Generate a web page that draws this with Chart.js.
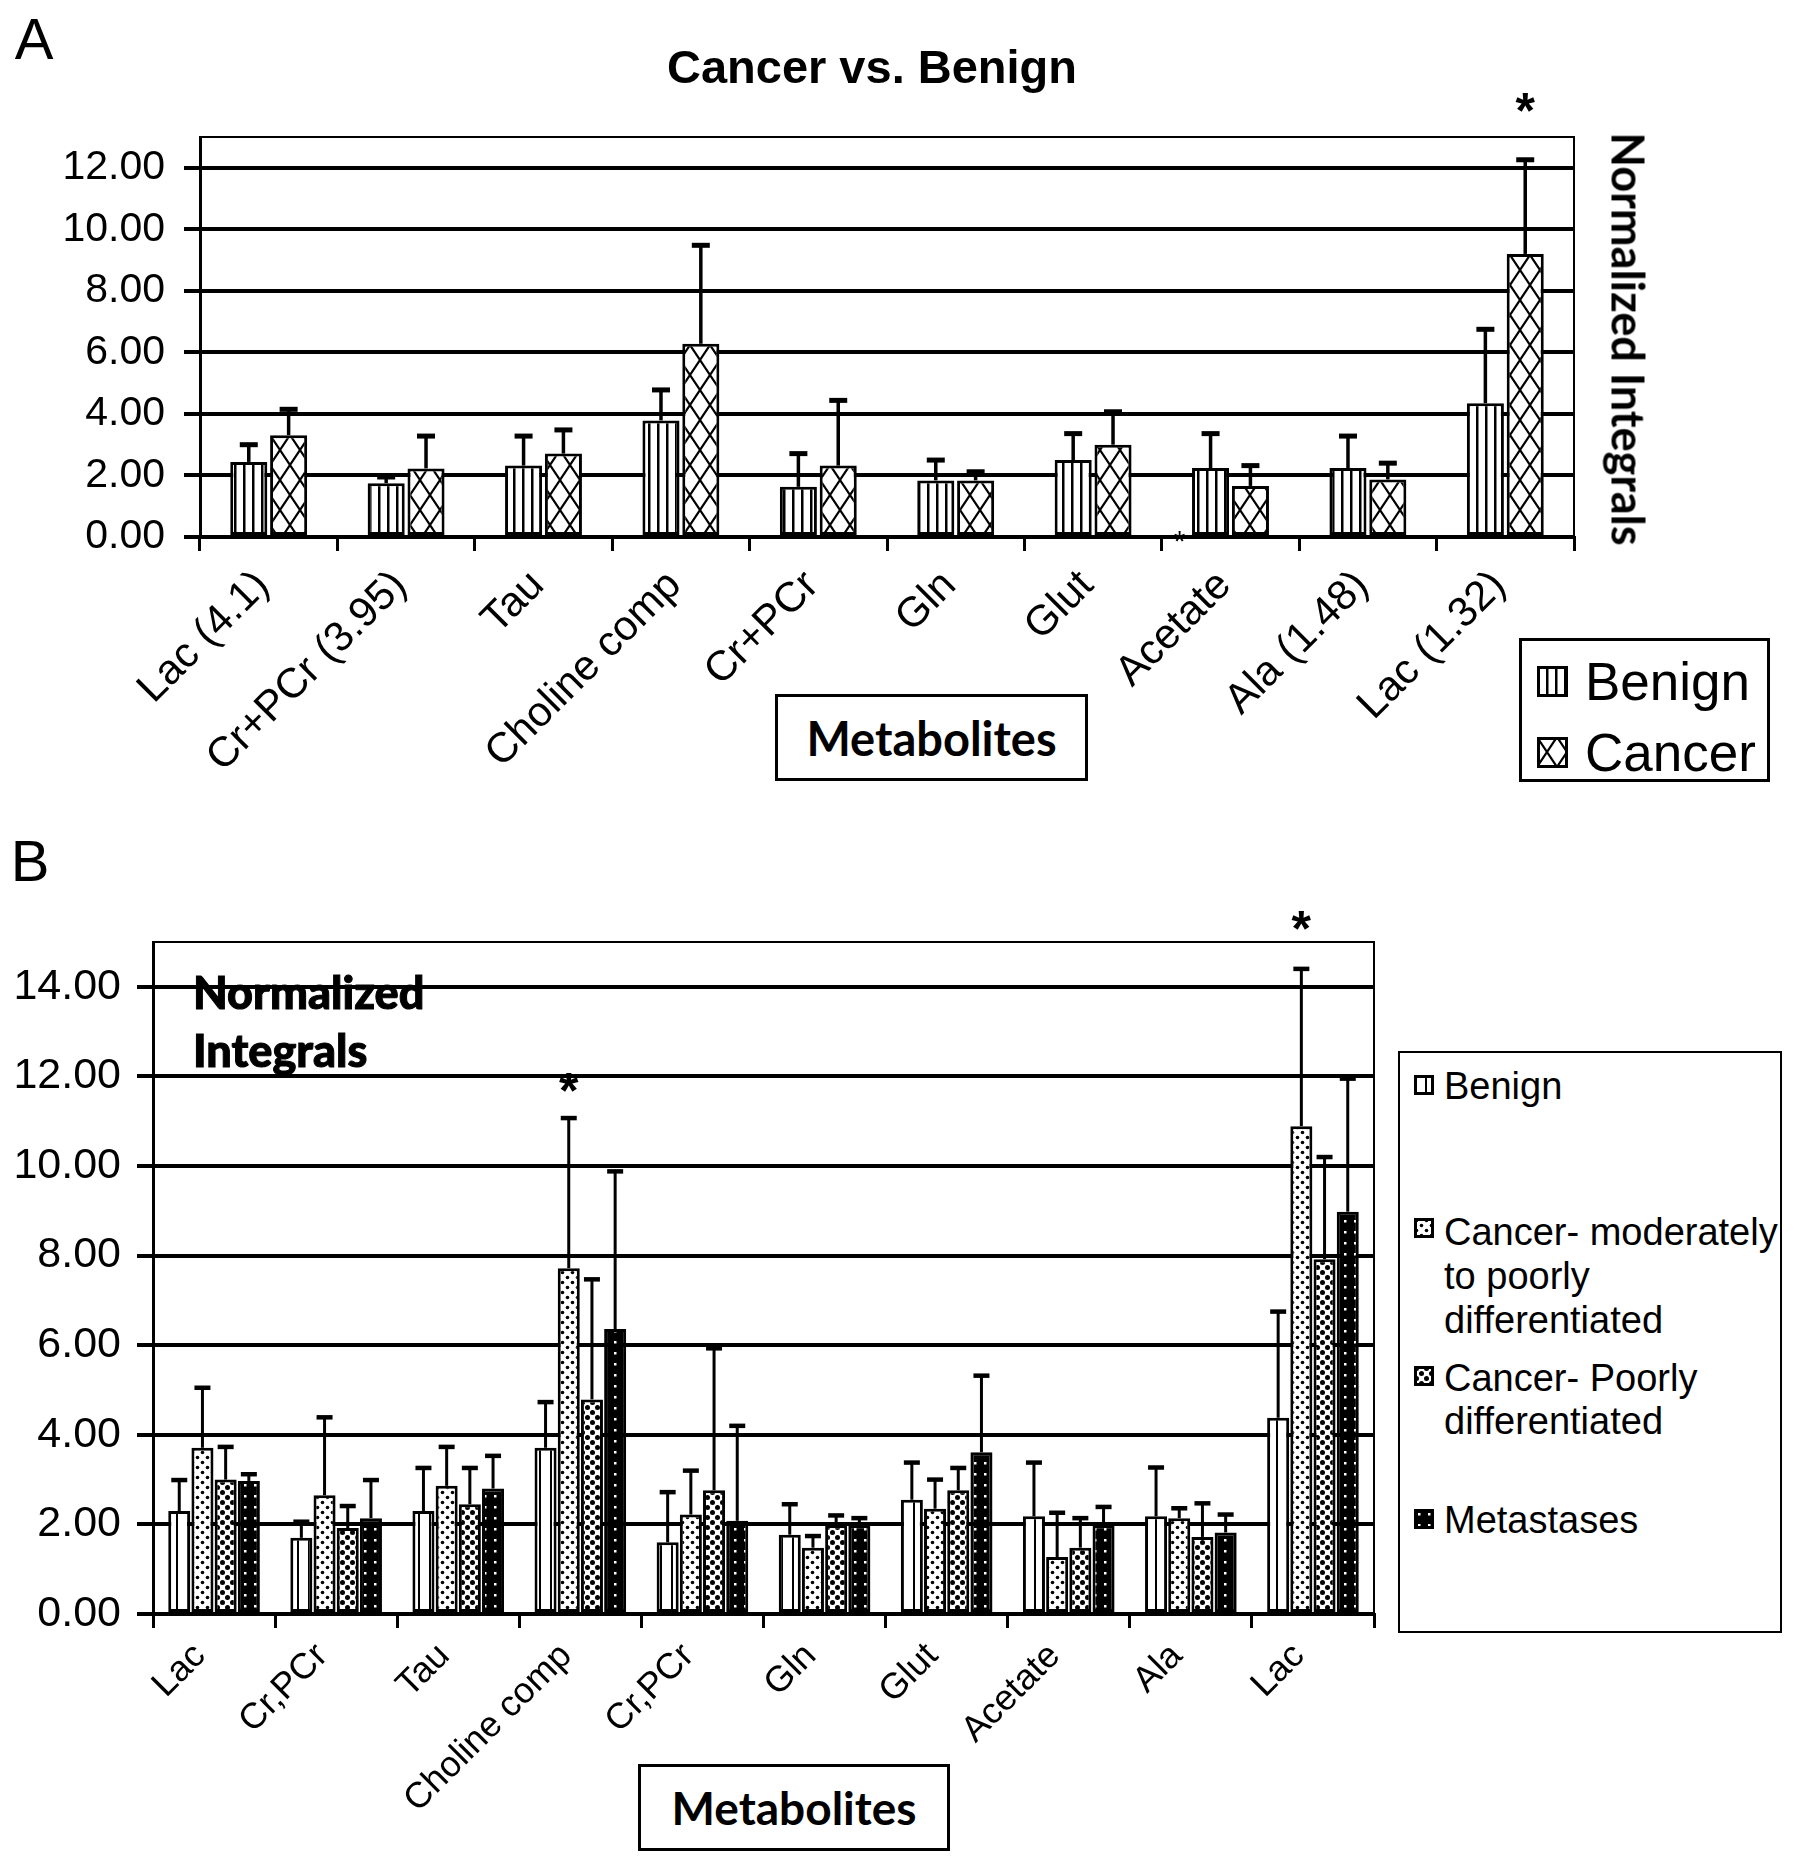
<!DOCTYPE html>
<html><head><meta charset="utf-8">
<script src="https://cdn.jsdelivr.net/npm/chart.js@4.4.1/dist/chart.umd.min.js"></script>
<style>
body{margin:0;background:#fff;width:1795px;height:1866px;position:relative;overflow:hidden;font-family:'Liberation Sans',Arial,sans-serif;color:#000}
canvas.chart{position:absolute;left:0}
.t{position:absolute;line-height:1;white-space:nowrap;transform:translate(-50%,-50%)}
.box{position:absolute;box-sizing:border-box;border:3px solid #000;background:#fff}
.lat{font-family:Lato,'Open Sans',sans-serif;font-weight:700}
.heavy{font-weight:900;-webkit-text-stroke:1px #000}
.leg{position:absolute;line-height:1;white-space:nowrap}
.sw{position:absolute}
</style></head><body>
<canvas class="chart" id="chartA" width="1795" height="820" style="top:0;width:1795px;height:820px"></canvas>
<canvas class="chart" id="chartB" width="1795" height="1046" style="top:820px;width:1795px;height:1046px"></canvas>

<div class="t" style="left:34px;top:39px;font-size:58px">A</div>
<div class="t" style="left:872px;top:66px;font-size:47px;font-weight:700">Cancer vs. Benign</div>
<div class="t lat" style="left:1628px;top:339px;font-size:45px;transform:translate(-50%,-50%) rotate(90deg)">Normalized Integrals</div>
<div class="box lat" style="left:775px;top:694px;width:313px;height:87px;font-size:47px;display:flex;align-items:center;justify-content:center">Metabolites</div>
<div class="box" style="left:1519px;top:638px;width:251px;height:144px"></div>
<canvas class="sw" id="swA0" width="31" height="31" style="left:1537px;top:666px"></canvas>
<div class="leg" style="left:1585px;top:655px;font-size:53px">Benign</div>
<canvas class="sw" id="swA1" width="31" height="31" style="left:1537px;top:737px"></canvas>
<div class="leg" style="left:1585px;top:726px;font-size:53px">Cancer</div>

<div class="t" style="left:30px;top:861px;font-size:58px">B</div>
<div class="leg lat heavy" style="left:193px;top:963px;font-size:45px;line-height:58px">Normalized<br>Integrals</div>
<div class="box lat" style="left:638px;top:1764px;width:312px;height:87px;font-size:46px;display:flex;align-items:center;justify-content:center">Metabolites</div>
<div class="box" style="left:1398px;top:1051px;width:384px;height:582px;border-width:2px"></div>
<canvas class="sw" id="swB0" width="20" height="20" style="left:1414px;top:1075px"></canvas>
<div class="leg" style="left:1444px;top:1067px;font-size:38px">Benign</div>
<canvas class="sw" id="swB1" width="20" height="20" style="left:1414px;top:1218px"></canvas>
<div class="leg" style="left:1444px;top:1210px;font-size:38px;line-height:44px">Cancer- moderately<br>to poorly<br>differentiated</div>
<canvas class="sw" id="swB2" width="20" height="20" style="left:1414px;top:1366px"></canvas>
<div class="leg" style="left:1444px;top:1357px;font-size:38px;line-height:43px">Cancer- Poorly<br>differentiated</div>
<canvas class="sw" id="swB3" width="20" height="20" style="left:1414px;top:1509px"></canvas>
<div class="leg" style="left:1444px;top:1501px;font-size:38px">Metastases</div>

<script>
// ---------- DATA ----------
const categoriesA = ['Lac (4.1)','Cr+PCr (3.95)','Tau','Choline comp','Cr+PCr','Gln','Glut','Acetate','Ala (1.48)','Lac (1.32)'];
const benignA   = [2.44,1.75,2.32,3.79,1.63,1.84,2.50,2.24,2.24,4.35];
const benignASD = [0.56,0.20,0.96,0.99,1.08,0.66,0.86,1.12,1.04,2.40];
const cancerA   = [3.31,2.23,2.71,6.28,2.32,1.84,3.00,1.66,1.87,9.20];
const cancerASD = [0.84,1.05,0.77,3.20,2.12,0.28,1.07,0.66,0.53,3.06];
const yTicksA   = [0,2,4,6,8,10,12];

const categoriesB = ['Lac','Cr,PCr','Tau','Choline comp','Cr,PCr','Gln','Glut','Acetate','Ala','Lac'];
const benignB    = [2.30,1.70,2.30,3.71,1.60,1.77,2.55,2.18,2.18,4.38];
const benignBSD  = [0.69,0.36,0.96,1.02,1.12,0.68,0.83,1.20,1.09,2.37];
const modPoorB   = [3.71,2.65,2.86,7.72,2.22,1.48,2.35,1.27,2.14,10.89];
const modPoorBSD = [1.34,1.74,0.87,3.35,0.98,0.26,0.65,0.99,0.22,3.51];
const poorB      = [3.00,1.92,2.45,4.79,2.76,1.98,2.76,1.48,1.72,7.92];
const poorBSD    = [0.73,0.49,0.81,2.68,3.17,0.22,0.50,0.66,0.75,2.28];
const metaB      = [2.97,2.14,2.80,6.36,2.08,1.98,3.61,1.98,1.82,8.98];
const metaBSD    = [0.15,0.85,0.73,3.52,2.12,0.16,1.71,0.41,0.40,2.97];
const yTicksB    = [0,2,4,6,8,10,12,14];

// ---------- PATTERNS ----------
function tile(w,h,draw){const c=document.createElement('canvas');c.width=w;c.height=h;const g=c.getContext('2d');g.fillStyle='#fff';g.fillRect(0,0,w,h);draw(g,w,h);return c;}
const tiles = {
  vStripeA: tile(9,9,(g,w,h)=>{g.fillStyle='#000';g.fillRect(0,0,2.5,h);}),
  crossA: tile(20,30,(g,w,h)=>{g.strokeStyle='#000';g.lineWidth=2.2;g.beginPath();for(const dx of [-w,0,w]){g.moveTo(dx,0);g.lineTo(dx+w,h);g.moveTo(dx+w,0);g.lineTo(dx,h);}g.stroke();}),
  vStripeB: tile(11,11,(g,w,h)=>{g.fillStyle='#000';g.fillRect(0,0,2,h);}),
  dotsSmall: tile(10,10,(g,w,h)=>{g.fillStyle='#000';for(const [x,y] of [[2.5,2.5],[7.5,7.5]]){g.beginPath();g.arc(x,y,1.8,0,Math.PI*2);g.fill();}}),
  dotsBig: tile(10,10,(g,w,h)=>{g.fillStyle='#000';for(const [x,y] of [[2.5,2.5],[7.5,7.5]]){g.beginPath();g.arc(x,y,2.5,0,Math.PI*2);g.fill();}}),
  darkDots: tile(10,11,(g,w,h)=>{g.fillStyle='#000';g.fillRect(0,0,w,h);g.fillStyle='#fff';g.fillRect(4,4,2.5,2.5);})
};
function pat(ctx,name){return ctx.createPattern(tiles[name],'repeat');}

// ---------- PLUGINS ----------
const errorBars = {
  id:'errorBars',
  afterDatasetsDraw(chart,args,o){
    const ctx=chart.ctx, y=chart.scales.y;
    ctx.save();ctx.strokeStyle='#000';ctx.lineCap='butt';
    chart.data.datasets.forEach((ds,di)=>{
      chart.getDatasetMeta(di).data.forEach((bar,i)=>{
        const top=y.getPixelForValue(ds.data[i]+ds.sd[i]);
        ctx.lineWidth=o.lw;ctx.beginPath();ctx.moveTo(bar.x,bar.y);ctx.lineTo(bar.x,top);ctx.stroke();
        ctx.lineWidth=o.capLw;ctx.beginPath();ctx.moveTo(bar.x-o.cap/2,top);ctx.lineTo(bar.x+o.cap/2,top);ctx.stroke();
      });
    });
    ctx.restore();
  }
};
const marks = {
  id:'marks',
  afterDraw(chart,args,o){
    const ctx=chart.ctx, y=chart.scales.y, x=chart.scales.x;
    ctx.save();ctx.fillStyle='#000';ctx.textAlign='center';ctx.textBaseline='alphabetic';
    (o.items||[]).forEach(m=>{
      const px = (m.ds!==undefined) ? chart.getDatasetMeta(m.ds).data[m.i].x : x.getPixelForValue(m.xv);
      const py = y.getPixelForValue(m.v);
      ctx.font=(m.bold?'bold ':'')+m.size+'px "Liberation Sans", Arial, sans-serif';
      ctx.fillText('*',px,py+0.58*m.size);
    });
    ctx.restore();
  }
};
const frame = {
  id:'frame',
  afterDraw(chart,args,o){
    const a=chart.chartArea, ctx=chart.ctx;
    ctx.save();ctx.strokeStyle='#000';ctx.lineWidth=o.lw;
    ctx.beginPath();ctx.moveTo(a.left,a.top);ctx.lineTo(a.right,a.top);ctx.lineTo(a.right,a.bottom);ctx.stroke();
    ctx.restore();
  }
};

Chart.defaults.font.family = '"Liberation Sans", Arial, sans-serif';
Chart.defaults.color = '#000';

function makeChart(id, cats, datasets, cfg){
  return new Chart(document.getElementById(id), {
    type:'bar',
    data:{labels:cats, datasets},
    plugins:[errorBars, marks, frame],
    options:{
      responsive:false, animation:false, devicePixelRatio:1,
      layout:{padding:{left:0, top:cfg.top, right:cfg.right, bottom:0}},
      datasets:{bar:{categoryPercentage:cfg.catPct, barPercentage:cfg.barPct, borderColor:'#000', borderWidth:cfg.bw, borderSkipped:false}},
      plugins:{legend:{display:false}, tooltip:{enabled:false},
        errorBars:cfg.err, marks:{items:cfg.marks}, frame:{lw:2}},
      scales:{
        x:{type:'category', offset:true,
          afterFit:s=>{s.height=cfg.xh;},
          grid:{drawOnChartArea:false, drawTicks:true, tickLength:14, lineWidth:3, color:'#000', offset:true},
          border:{color:'#000', width:3},
          ticks:{autoSkip:false, maxRotation:45, minRotation:45, padding:cfg.xpad, labelOffset:cfg.xoff, color:'#000', font:{size:cfg.xfs}}},
        y:{type:'linear', min:0, max:cfg.ymax,
          afterFit:s=>{s.width=cfg.yw;},
          afterBuildTicks:s=>{s.ticks=cfg.yticks.map(v=>({value:v}));},
          grid:{color:'#000', lineWidth:4, tickLength:16, drawTicks:true},
          border:{color:'#000', width:3},
          ticks:{padding:cfg.ypad, color:'#000', font:{size:cfg.yfs}, callback:v=>Number(v).toFixed(2)}}
      }
    }
  });
}

const ctxA = document.getElementById('chartA').getContext('2d');
makeChart('chartA', categoriesA, [
  {label:'Benign', data:benignA, sd:benignASD, backgroundColor:pat(ctxA,'vStripeA')},
  {label:'Cancer', data:cancerA, sd:cancerASD, backgroundColor:pat(ctxA,'crossA')}
], {top:137, right:221, xh:283, yw:200, ymax:13, yticks:yTicksA, catPct:0.58, barPct:0.93, bw:3,
    xpad:10, xoff:-6, xfs:42, ypad:19, yfs:41, err:{lw:3.5, capLw:5, cap:18},
    marks:[{ds:1,i:9,v:14.25,size:50,bold:true},{xv:6.63,v:0.1,size:30,bold:false}]});

const ctxB = document.getElementById('chartB').getContext('2d');
makeChart('chartB', categoriesB, [
  {label:'Benign', data:benignB, sd:benignBSD, backgroundColor:pat(ctxB,'vStripeB')},
  {label:'Cancer- moderately to poorly differentiated', data:modPoorB, sd:modPoorBSD, backgroundColor:pat(ctxB,'dotsSmall')},
  {label:'Cancer- Poorly differentiated', data:poorB, sd:poorBSD, backgroundColor:pat(ctxB,'dotsBig')},
  {label:'Metastases', data:metaB, sd:metaBSD, backgroundColor:pat(ctxB,'darkDots')}
], {top:122, right:421, xh:252, yw:153, ymax:15, yticks:yTicksB, catPct:0.76, barPct:0.95, bw:3,
    xpad:7, xoff:-14, xfs:36, ypad:16, yfs:43, err:{lw:3, capLw:4.5, cap:16},
    marks:[{ds:1,i:3,v:11.95,size:50,bold:true},{ds:1,i:9,v:15.55,size:50,bold:true}]});

// legend swatches
function swatch(id,name){const c=document.getElementById(id),g=c.getContext('2d');g.fillStyle=g.createPattern(tiles[name],'repeat');g.fillRect(0,0,c.width,c.height);g.strokeStyle='#000';g.lineWidth=3;g.strokeRect(1.5,1.5,c.width-3,c.height-3);}
swatch('swA0','vStripeA');swatch('swA1','crossA');
swatch('swB0','vStripeB');swatch('swB1','dotsSmall');swatch('swB2','dotsBig');swatch('swB3','darkDots');
</script>
</body></html>
